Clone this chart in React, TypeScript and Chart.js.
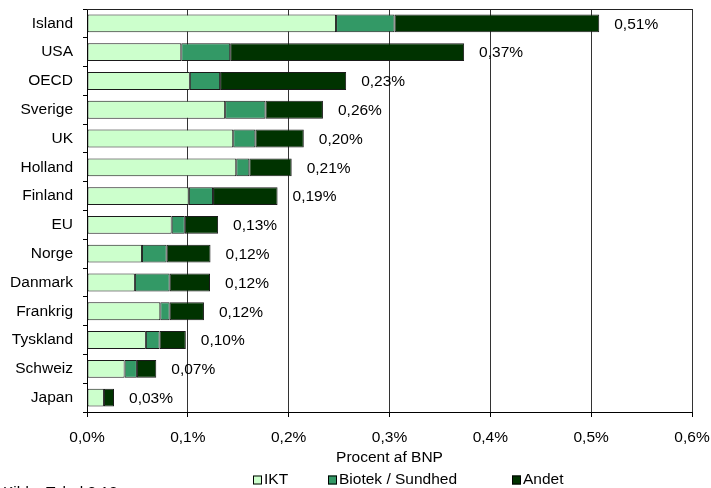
import React, { useEffect, useRef } from 'react';
import { Chart, registerables } from 'chart.js';

Chart.register(...registerables);

const categories = ['Island', 'USA', 'OECD', 'Sverige', 'UK', 'Holland', 'Finland', 'EU', 'Norge', 'Danmark', 'Frankrig', 'Tyskland', 'Schweiz', 'Japan'];
const ikt = [0.247, 0.0935, 0.102, 0.137, 0.145, 0.148, 0.101, 0.084, 0.0545, 0.0475, 0.0727, 0.0584, 0.0373, 0.0168];
const biotek = [0.058, 0.0485, 0.03, 0.04, 0.022, 0.013, 0.024, 0.013, 0.0245, 0.0345, 0.0093, 0.0136, 0.0122, 0];
const andet = [0.203, 0.232, 0.125, 0.057, 0.048, 0.042, 0.064, 0.033, 0.0435, 0.04, 0.034, 0.026, 0.0192, 0.01];
const totalLabels = ['0,51%', '0,37%', '0,23%', '0,26%', '0,20%', '0,21%', '0,19%', '0,13%', '0,12%', '0,12%', '0,12%', '0,10%', '0,07%', '0,03%'];
const xTickLabels = ['0,0%', '0,1%', '0,2%', '0,3%', '0,4%', '0,5%', '0,6%'];
const seriesNames = ['IKT', 'Biotek / Sundhed', 'Andet'];
const seriesColors = ['#CCFFCC', '#339966', '#003300'];
const axisTitle = 'Procent af BNP';
const sourceText = 'Kilde: Tabel 3.12';

const FONT = '"Liberation Sans", Arial, sans-serif';
const FS = 15.5;

const zeroPad = (s: any) => {
  s.paddingTop = 0;
  s.paddingBottom = 0;
  s.paddingLeft = 0;
  s.paddingRight = 0;
};

const extras = {
  id: 'extras',
  afterDraw(chart: any) {
    const { ctx, chartArea } = chart;
    ctx.save();
    // top border of plot
    ctx.strokeStyle = '#222';
    ctx.lineWidth = 1;
    ctx.beginPath();
    ctx.moveTo(chartArea.left, Math.floor(chartArea.top) + 0.5);
    ctx.lineTo(chartArea.right + 0.5, Math.floor(chartArea.top) + 0.5);
    ctx.stroke();

    // data labels at bar ends
    const last = chart.getDatasetMeta(chart.data.datasets.length - 1);
    ctx.font = `${FS}px ${FONT}`;
    ctx.fillStyle = '#000';
    ctx.textAlign = 'left';
    ctx.textBaseline = 'middle';
    last.data.forEach((el: any, i: number) => {
      ctx.fillText(totalLabels[i], el.x + 15, el.y + 1);
    });

    // legend
    const legendY = 480;
    const boxX = [253, 328, 512];
    seriesNames.forEach((name, i) => {
      ctx.fillStyle = seriesColors[i];
      ctx.fillRect(boxX[i], legendY - 4.5, 9, 9);
      ctx.strokeStyle = '#000';
      ctx.strokeRect(boxX[i] + 0.5, legendY - 4.5 + 0.5, 8, 8);
      ctx.fillStyle = '#000';
      ctx.fillText(name, boxX[i] + 11, legendY);
    });

    // source
    ctx.textBaseline = 'alphabetic';
    ctx.fillText(sourceText, 3, 497);
    ctx.restore();
  },
};

export default function App() {
  const ref = useRef<HTMLCanvasElement | null>(null);
  useEffect(() => {
    if (!ref.current) return;
    const datasets = [ikt, biotek, andet].map((d, i) => ({
      label: seriesNames[i],
      data: d,
      backgroundColor: seriesColors[i],
      borderColor: '#1a1a1a',
      borderWidth: 1,
      borderSkipped: false,
      barPercentage: 0.62,
      categoryPercentage: 1,
    }));
    const chart = new Chart(ref.current, {
      type: 'bar',
      data: { labels: categories, datasets },
      plugins: [extras],
      options: {
        indexAxis: 'y',
        animation: false,
        responsive: false,
        maintainAspectRatio: false,
        layout: { padding: { top: 9, right: 19, left: 0, bottom: 0 } },
        plugins: { legend: { display: false }, tooltip: { enabled: false }, title: { display: false } },
        scales: {
          x: {
            stacked: true,
            min: 0,
            max: 0.6,
            afterFit: (s: any) => { s.height = 76; zeroPad(s); },
            ticks: {
              stepSize: 0.1,
              color: '#000',
              font: { family: FONT, size: FS },
              padding: 11,
              maxRotation: 0,
              callback: (_v: any, idx: number) => xTickLabels[idx],
            },
            grid: { color: '#333', lineWidth: 1, drawTicks: true, tickLength: 5, tickColor: '#000' },
            border: { display: true, color: '#000' },
            title: { display: true, text: axisTitle, color: '#000', font: { family: FONT, size: FS }, padding: { top: 0, bottom: 21 } },
          },
          y: {
            stacked: true,
            afterFit: (s: any) => { s.width = 87; zeroPad(s); },
            ticks: { color: '#000', font: { family: FONT, size: FS }, padding: 10 },
            grid: { drawOnChartArea: false, drawTicks: true, tickLength: 4, color: '#000', offset: true },
            border: { display: true, color: '#000' },
          },
        },
      } as any,
    });
    return () => chart.destroy();
  }, []);
  return (
    <div style={{ position: 'absolute', left: 0, top: 0, width: 711, height: 488, overflow: 'hidden', background: '#fff' }}>
      <canvas ref={ref} width={711} height={488} style={{ width: 711, height: 488, display: 'block' }} />
    </div>
  );
}
